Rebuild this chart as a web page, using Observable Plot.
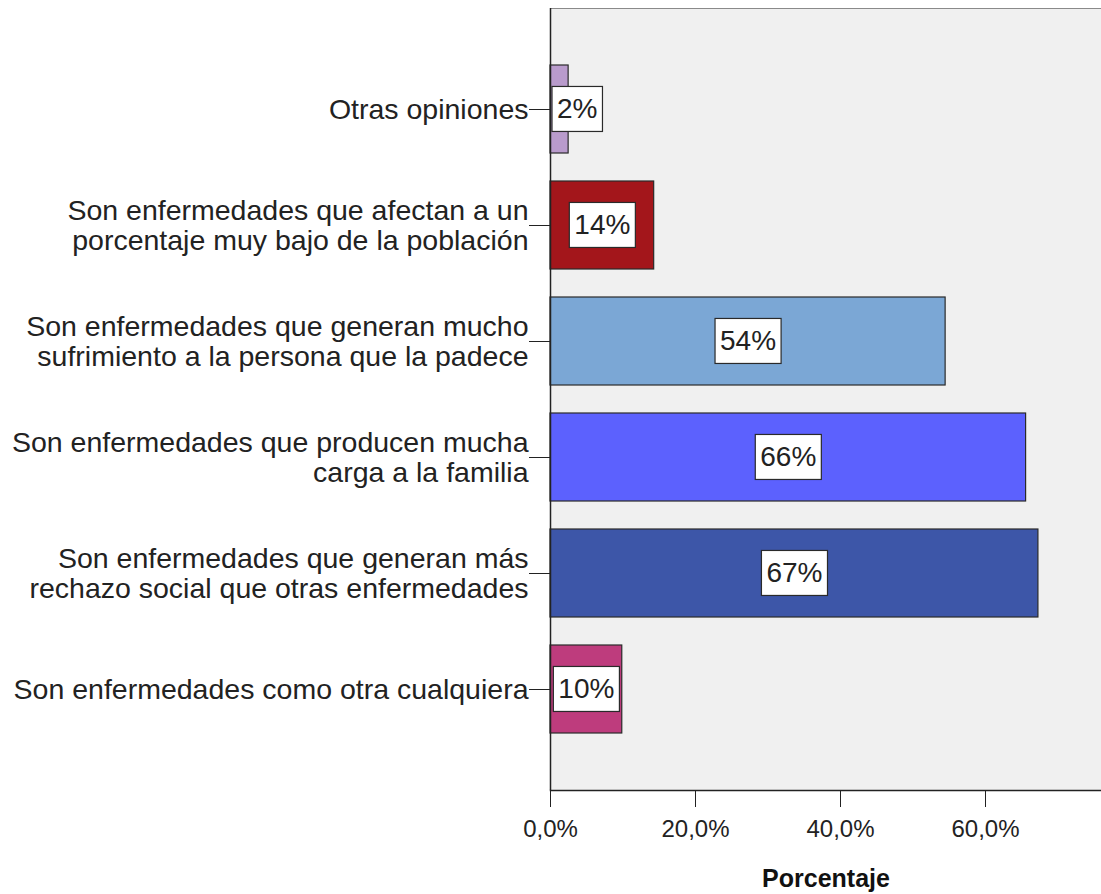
<!DOCTYPE html>
<html>
<head>
<meta charset="utf-8">
<script src="https://cdn.jsdelivr.net/npm/d3@7"></script>
<script src="https://cdn.jsdelivr.net/npm/@observablehq/plot@0.6"></script>
<style>
  html, body { margin: 0; padding: 0; background: #ffffff; }
  #chart { width: 1101px; height: 894px; }
</style>
</head>
<body>
<div id="chart"></div>
<script>
const categories = [
  "Otras opiniones",
  "Son enfermedades que afectan a un\nporcentaje muy bajo de la población",
  "Son enfermedades que generan mucho\nsufrimiento a la persona que la padece",
  "Son enfermedades que producen mucha\ncarga a la familia",
  "Son enfermedades que generan más\nrechazo social que otras enfermedades",
  "Son enfermedades como otra cualquiera"
];
const values = [2.5, 14.3, 54.5, 65.6, 67.3, 9.9];
const valueLabels = ["2%", "14%", "54%", "66%", "67%", "10%"];
const colors = ["#B99BCC", "#A3161B", "#7BA7D5", "#5C61FE", "#3D56A8", "#BE3C7D"];
const xTicks = [0, 20, 40, 60];
const xTitle = "Porcentaje";

const data = categories.map((c, i) => ({cat: c, value: values[i], label: valueLabels[i], color: colors[i]}));
const font = "'Liberation Sans', Arial, sans-serif";

const plot = Plot.plot({
  width: 1101,
  height: 894,
  marginLeft: 550,
  marginRight: 0,
  marginTop: 8,
  marginBottom: 104,
  style: {fontFamily: font, fontSize: "28px", color: "#222", background: "#ffffff", overflow: "visible"},
  x: {domain: [0, 76], axis: null},
  y: {domain: categories, paddingInner: 0.245, paddingOuter: 0.476, axis: null},
  color: {type: "identity"},
  marks: [
    Plot.frame({fill: "#f0f0f0", stroke: "#8a8a8a"}),
    Plot.barX(data, {x: "value", y: "cat", fill: "color", stroke: "#2a2a2a", strokeWidth: 1.2}),
    Plot.ruleX([0], {stroke: "#222", strokeWidth: 1.5}),
    Plot.frame({anchor: "bottom", stroke: "#222", strokeWidth: 1.5}),
    Plot.axisY({tickSize: 21, tickPadding: 1, fontSize: 28.5, lineHeight: 1.06, color: "#222", label: null}),
    Plot.axisX({ticks: xTicks, tickFormat: d => d.toFixed(1).replace(".", ",") + "%", tickSize: 17, tickPadding: 12, fontSize: 24, color: "#222", label: null}),
    Plot.text([xTitle], {frameAnchor: "bottom", dy: 96, fontSize: 25, fontWeight: "bold", fill: "#111"}),
    Plot.text(data, {x: d => d.value / 2, y: "cat", text: "label", fontSize: 28, fill: "#222"})
  ]
});

document.getElementById("chart").appendChild(plot);

// white boxes behind the value labels
const svg = plot.tagName.toLowerCase() === "svg" ? plot : plot.querySelector("svg");
const svgRect = svg.getBoundingClientRect();
const x0 = 550;
const boxG = document.createElementNS("http://www.w3.org/2000/svg", "g");
let textGroup = null;
svg.querySelectorAll("text").forEach(el => {
  if (!valueLabels.includes(el.textContent)) return;
  const r = el.getBoundingClientRect();
  let left = r.left - svgRect.left - 5;
  const w = r.width + 10;
  const cy = r.top - svgRect.top + r.height / 2;
  const shift = (x0 + 2) - left;
  if (shift > 0) {
    left += shift;
    const t = el.getAttribute("transform") || "";
    el.setAttribute("transform", `translate(${shift},0) ` + t);
  }
  const rect = document.createElementNS("http://www.w3.org/2000/svg", "rect");
  rect.setAttribute("x", left);
  rect.setAttribute("y", cy - 22.5);
  rect.setAttribute("width", w);
  rect.setAttribute("height", 45);
  rect.setAttribute("fill", "#ffffff");
  rect.setAttribute("stroke", "#2a2a2a");
  rect.setAttribute("stroke-width", 1.2);
  boxG.appendChild(rect);
  let p = el;
  while (p.parentNode && p.parentNode !== svg) p = p.parentNode;
  textGroup = p;
});
if (textGroup) svg.insertBefore(boxG, textGroup);
</script>
</body>
</html>
